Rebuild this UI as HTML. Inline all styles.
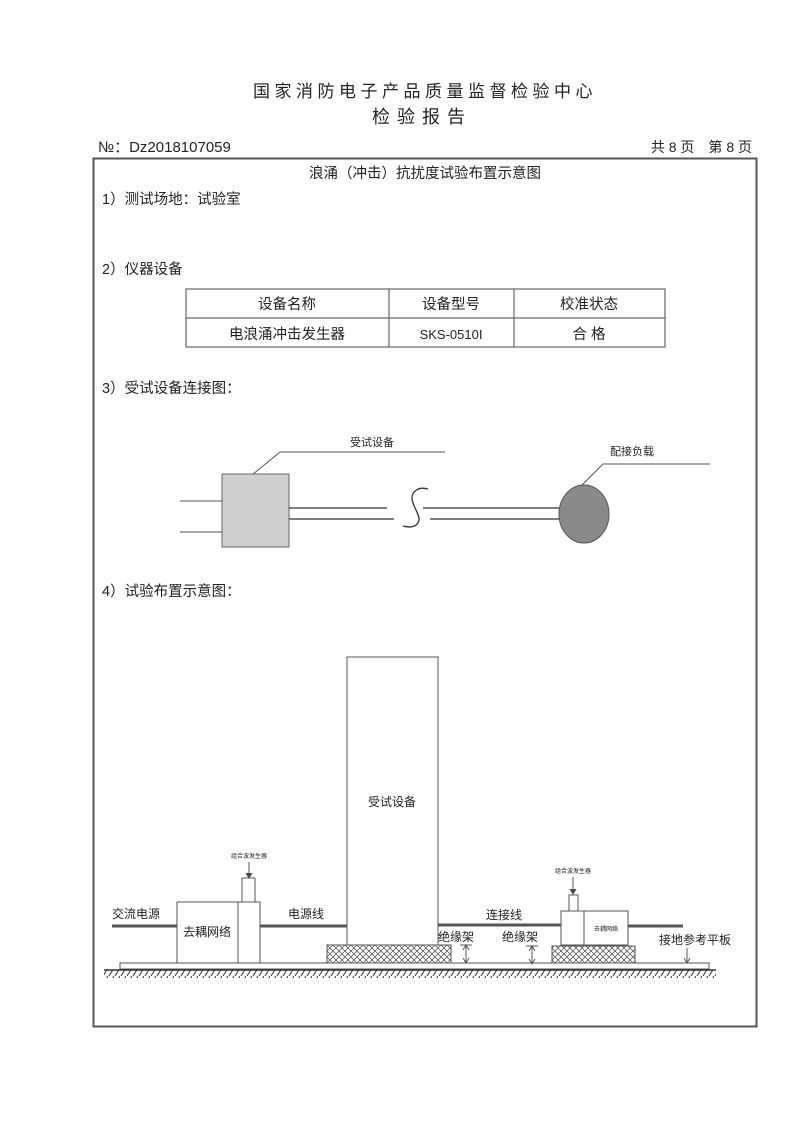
<!DOCTYPE html>
<html><head><meta charset="utf-8"><style>
html,body{margin:0;padding:0;background:#fff;}
svg{display:block}
text{font-family:"Liberation Sans","Noto Sans CJK SC",sans-serif;fill:#222}
</style></head><body>
<svg width="800" height="1130" viewBox="0 0 800 1130" xmlns="http://www.w3.org/2000/svg">
<defs>
<pattern id="hx" width="6" height="6" patternUnits="userSpaceOnUse">
<path d="M0,0L6,6M6,0L0,6" stroke="#444" stroke-width="0.7"/>
</pattern>
<pattern id="gh" width="6" height="8" patternUnits="userSpaceOnUse">
<path d="M6,0L1,8" stroke="#333" stroke-width="1"/>
</pattern>
</defs>
<text x="425" y="97" font-size="17" text-anchor="middle" letter-spacing="4.5">国家消防电子产品质量监督检验中心</text>
<text x="422" y="123" font-size="18" text-anchor="middle" letter-spacing="7">检验报告</text>
<text x="98" y="152" font-size="15">№：Dz2018107059</text>
<text x="752" y="152" font-size="14" text-anchor="end">共 8 页　第 8 页</text>
<rect x="93.5" y="158.5" width="663" height="868" fill="none" stroke="#555" stroke-width="2"/>
<text x="425" y="178" font-size="14.5" text-anchor="middle">浪涌（冲击）抗扰度试验布置示意图</text>
<text x="102" y="204" font-size="14.5">1）测试场地：试验室</text>
<text x="102" y="274" font-size="14.5">2）仪器设备</text>
<g stroke="#666" stroke-width="1.2" fill="none">
<rect x="186" y="289" width="479" height="58"/>
<line x1="186" y1="318" x2="665" y2="318"/>
<line x1="389" y1="289" x2="389" y2="347"/>
<line x1="514" y1="289" x2="514" y2="347"/>
</g>
<text x="287" y="309" font-size="14.5" text-anchor="middle">设备名称</text>
<text x="451" y="309" font-size="14.5" text-anchor="middle">设备型号</text>
<text x="589" y="309" font-size="14.5" text-anchor="middle">校准状态</text>
<text x="287" y="339" font-size="14.5" text-anchor="middle">电浪涌冲击发生器</text>
<text x="451" y="339" font-size="13" text-anchor="middle">SKS-0510I</text>
<text x="589" y="339" font-size="14.5" text-anchor="middle">合 格</text>
<text x="102" y="393" font-size="14.5">3）受试设备连接图：</text>
<g stroke="#555" stroke-width="1" fill="none">
<text x="372" y="446" font-size="11" text-anchor="middle" stroke="none">受试设备</text>
<polyline points="252,475 280,452 445,452"/>
<rect x="222" y="474" width="67" height="73" fill="#cfcfcf" stroke="#666"/>
<line x1="180" y1="501" x2="222" y2="501"/>
<line x1="180" y1="532" x2="222" y2="532"/>
<line x1="289" y1="508" x2="387" y2="508" stroke-width="1.5"/>
<line x1="289" y1="519" x2="394" y2="519" stroke-width="1.5"/>
<path d="M428,489 C418,486 412,492 412,498 C412,506 420,514 419,520 C418,527 410,528 403,526" stroke="#333" stroke-width="1.3"/>
<line x1="423" y1="508" x2="560" y2="508" stroke-width="1.5"/>
<line x1="430" y1="519" x2="560" y2="519" stroke-width="1.5"/>
<ellipse cx="584" cy="514" rx="25" ry="29" fill="#8a8a8a" stroke="#555"/>
<text x="632" y="455" font-size="11" text-anchor="middle" stroke="none">配接负载</text>
<polyline points="581,486 603,464 710,464"/>
</g>
<text x="102" y="596" font-size="14.5">4）试验布置示意图：</text>
<g stroke="#555" stroke-width="1" fill="none">
<rect x="347" y="657" width="91" height="288"/>
<rect x="327" y="945" width="124" height="18" fill="url(#hx)"/>
<rect x="552" y="946" width="83" height="18" fill="url(#hx)"/>
<rect x="120" y="963" width="589" height="6" fill="#fff"/>
<line x1="104" y1="970" x2="716" y2="970" stroke="#333" stroke-width="1.5"/>
<rect x="104" y="970" width="612" height="8" fill="url(#gh)" stroke="none"/>
<rect x="177" y="902" width="83" height="61" fill="#fff"/>
<line x1="238" y1="902" x2="238" y2="963"/>
<rect x="242" y="878" width="13" height="24" fill="#fff"/>
<line x1="249" y1="862" x2="249" y2="876"/>
<path d="M246,873 L249,878 L252,873" fill="#444"/>
<rect x="561" y="911" width="67" height="34" fill="#fff"/>
<line x1="584" y1="911" x2="584" y2="945"/>
<rect x="569" y="895" width="9" height="16" fill="#fff"/>
<line x1="573" y1="877" x2="573" y2="891"/>
<path d="M570,889 L573,894 L576,889" fill="#444"/>
<g stroke="#555" stroke-width="3">
<line x1="112" y1="926" x2="177" y2="926"/>
<line x1="260" y1="926" x2="347" y2="926"/>
<line x1="438" y1="925" x2="561" y2="925"/>
<line x1="628" y1="926" x2="683" y2="926"/>
</g>
<line x1="460" y1="945" x2="472" y2="945"/>
<line x1="466" y1="946" x2="466" y2="962"/>
<path d="M463,950 L466,945 L469,950 M463,958 L466,963 L469,958"/>
<line x1="526" y1="946" x2="538" y2="946"/>
<line x1="532" y1="947" x2="532" y2="963"/>
<path d="M529,951 L532,946 L535,951 M529,959 L532,964 L535,959"/>
<line x1="687" y1="948" x2="687" y2="962"/>
<path d="M684,958 L687,963 L690,958"/>
</g>
<g font-family="Liberation Serif,'Noto Serif CJK SC',serif">
<text x="392" y="806" font-size="12" text-anchor="middle">受试设备</text>
<text x="249" y="858" font-size="6" text-anchor="middle">组合波发生器</text>
<text x="573" y="873" font-size="6" text-anchor="middle">组合波发生器</text>
<text x="112" y="918" font-size="12">交流电源</text>
<text x="183" y="936" font-size="12">去耦网络</text>
<text x="288" y="918" font-size="12">电源线</text>
<text x="486" y="919" font-size="12">连接线</text>
<text x="438" y="941" font-size="12">绝缘架</text>
<text x="502" y="941" font-size="12">绝缘架</text>
<text x="606" y="931" font-size="6" text-anchor="middle">去耦网络</text>
<text x="659" y="944" font-size="12">接地参考平板</text>
</g>
</svg>
</body></html>
